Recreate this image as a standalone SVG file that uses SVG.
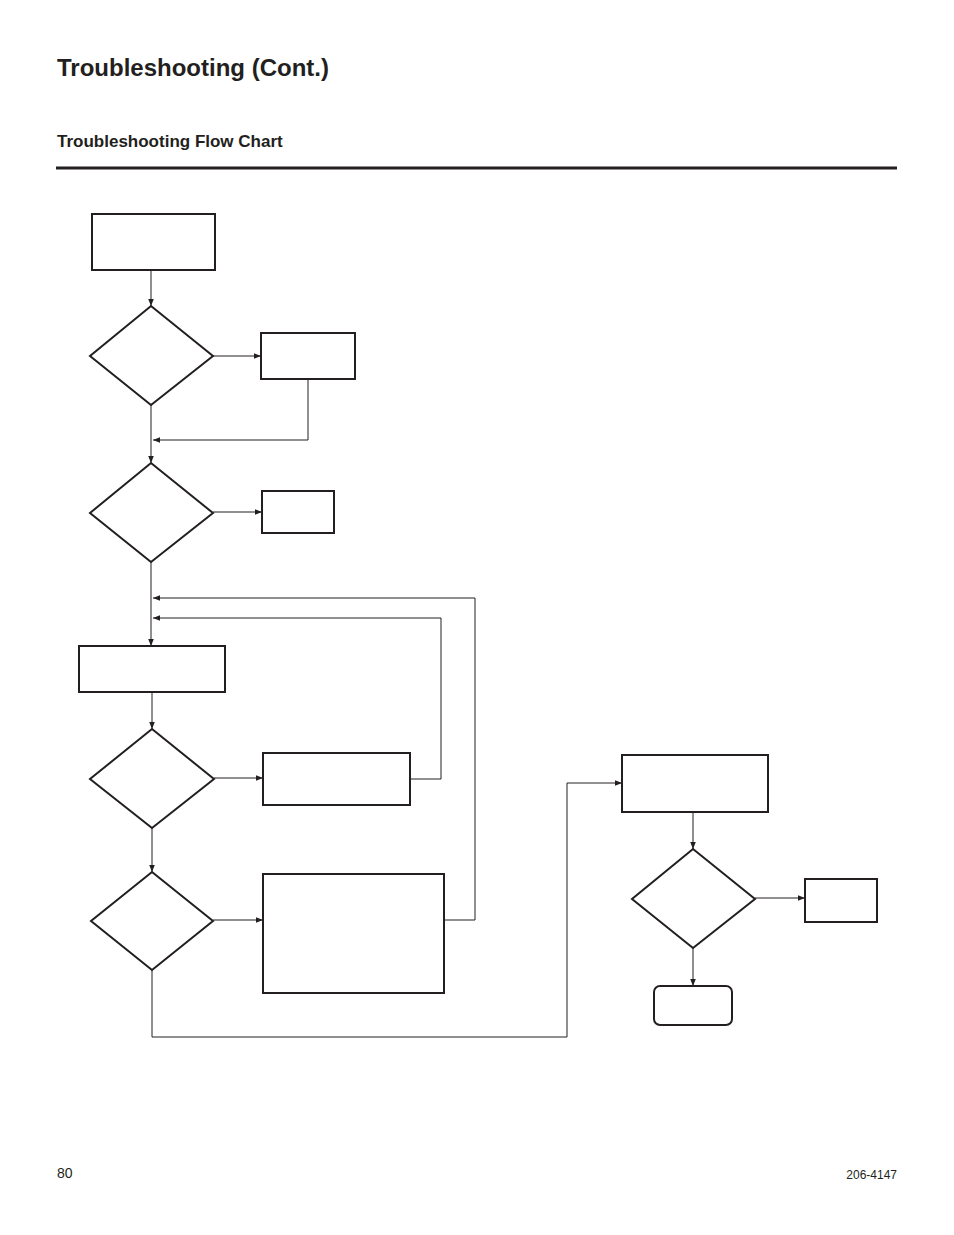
<svg xmlns="http://www.w3.org/2000/svg" width="954" height="1235" viewBox="0 0 954 1235">
<defs>
<marker id="ah" viewBox="0 0 10 10" refX="10" refY="5" markerWidth="7" markerHeight="7" orient="auto" markerUnits="userSpaceOnUse"><path d="M0,1 L10,5 L0,9 z" fill="#231f20"/></marker>
<style>
.n{fill:#fff;stroke:#231f20;stroke-width:2}
.c{fill:none;stroke:#231f20;stroke-width:1;marker-end:url(#ah)}
.t{font-family:"Liberation Sans",Arial,sans-serif;fill:#231f20}
</style>
</defs>
<rect width="954" height="1235" fill="#fff"/>
<text class="t" x="57" y="76" font-size="24" font-weight="bold">Troubleshooting (Cont.)</text>
<text class="t" x="57" y="147" font-size="17" font-weight="bold">Troubleshooting Flow Chart</text>
<line x1="56" y1="168" x2="897" y2="168" stroke="#231f20" stroke-width="3"/>
<g id="connectors">
<path class="c" d="M151,270 V306"/>
<path class="c" d="M213,356 H261"/>
<path class="c" d="M308,379 V440 H153"/>
<path class="c" d="M151,405 V463"/>
<path class="c" d="M213,512 H262"/>
<path class="c" d="M151,562 V646"/>
<path class="c" d="M444,920 H475 V598 H153"/>
<path class="c" d="M410,779 H441 V618 H153"/>
<path class="c" d="M152,692 V729"/>
<path class="c" d="M214,778 H263"/>
<path class="c" d="M152,828 V872"/>
<path class="c" d="M213,920 H263"/>
<path class="c" d="M152,970 V1037 H567 V783 H622"/>
<path class="c" d="M693,812 V849"/>
<path class="c" d="M755,898 H805"/>
<path class="c" d="M693,948 V986"/>
</g>
<g id="box1"><rect class="n" x="92" y="214" width="123" height="56"/></g>
<g id="dec1"><polygon class="n" points="151,306 213,356 151,405 90,356"/></g>
<g id="box2"><rect class="n" x="261" y="333" width="94" height="46"/></g>
<g id="dec2"><polygon class="n" points="151,463 213,513 151,562 90,513"/></g>
<g id="box3"><rect class="n" x="262" y="491" width="72" height="42"/></g>
<g id="box4"><rect class="n" x="79" y="646" width="146" height="46"/></g>
<g id="dec3"><polygon class="n" points="152,729 214,779 152,828 90,779"/></g>
<g id="box5"><rect class="n" x="263" y="753" width="147" height="52"/></g>
<g id="dec4"><polygon class="n" points="152,872 213,921 152,970 91,921"/></g>
<g id="box6"><rect class="n" x="263" y="874" width="181" height="119"/></g>
<g id="box7"><rect class="n" x="622" y="755" width="146" height="57"/></g>
<g id="dec5"><polygon class="n" points="693,849 755,899 693,948 632,899"/></g>
<g id="box8"><rect class="n" x="805" y="879" width="72" height="43"/></g>
<g id="end"><rect class="n" x="654" y="986" width="78" height="39" rx="6"/></g>
<text class="t" x="57" y="1178" font-size="14">80</text>
<text class="t" x="897" y="1179" font-size="12" text-anchor="end">206-4147</text>
</svg>
